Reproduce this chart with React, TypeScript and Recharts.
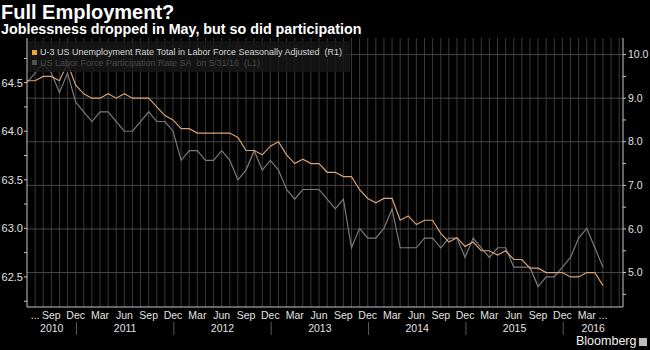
import React from "react";
import { LineChart, Line, XAxis, YAxis, ReferenceLine } from "recharts";

// monthly, Jun 2010 .. May 2016 (index 0 = Jun 2010)
const UNEMPLOYMENT = [
  9.4, 9.4, 9.5, 9.5, 9.4, 9.8, 9.3,
  9.1, 9.0, 9.0, 9.1, 9.0, 9.1, 9.0, 9.0, 9.0, 8.8, 8.6, 8.5,
  8.3, 8.3, 8.2, 8.2, 8.2, 8.2, 8.2, 8.1, 7.8, 7.8, 7.7, 7.9,
  8.0, 7.7, 7.5, 7.6, 7.5, 7.5, 7.3, 7.3, 7.2, 7.2, 6.9, 6.7,
  6.6, 6.7, 6.7, 6.2, 6.3, 6.1, 6.2, 6.2, 5.9, 5.7, 5.8, 5.6,
  5.7, 5.5, 5.5, 5.4, 5.5, 5.3, 5.3, 5.1, 5.1, 5.0, 5.0, 5.0,
  4.9, 4.9, 5.0, 5.0, 4.7,
];

const PARTICIPATION = [
  64.5, 64.6, 64.7, 64.6, 64.4, 64.6, 64.3,
  64.2, 64.1, 64.2, 64.2, 64.1, 64.0, 64.0, 64.1, 64.2, 64.1, 64.1, 64.0,
  63.7, 63.8, 63.8, 63.7, 63.7, 63.8, 63.7, 63.5, 63.6, 63.8, 63.6, 63.7,
  63.6, 63.4, 63.3, 63.4, 63.4, 63.4, 63.3, 63.2, 63.3, 62.8, 63.0, 62.9,
  62.9, 63.0, 63.2, 62.8, 62.8, 62.8, 62.9, 62.9, 62.8, 62.9, 62.9, 62.7,
  62.9, 62.8, 62.7, 62.8, 62.8, 62.6, 62.6, 62.6, 62.4, 62.5, 62.5, 62.6,
  62.7, 62.9, 63.0, 62.8, 62.6,
];

const MONTH_TICKS = [1, 3, 6, 9, 12, 15, 18, 21, 24, 27, 30, 33, 36, 39, 42, 45, 48, 51, 54, 57, 60, 63, 66, 69, 71];
const MONTH_LABELS = [
  "...", "Sep", "Dec", "Mar", "Jun", "Sep", "Dec", "Mar", "Jun", "Sep", "Dec", "Mar", "Jun",
  "Sep", "Dec", "Mar", "Jun", "Sep", "Dec", "Mar", "Jun", "Sep", "Dec", "Mar", "...",
];

const YEAR_TICKS = [3.05, 12.1, 24.1, 36.1, 48.1, 60.1, 69.8];
const YEAR_LABELS = ["2010", "2011", "2012", "2013", "2014", "2015", "2016"];
const YEAR_BREAKS = [6.1, 18.1, 30.1, 42.1, 54.1, 66.1];

const LEFT_TICKS = [62.25, 62.5, 62.75, 63, 63.25, 63.5, 63.75, 64, 64.25, 64.5, 64.75];
const RIGHT_TICKS = [4.5, 5, 5.5, 6, 6.5, 7, 7.5, 8, 8.5, 9, 9.5, 10];
const RIGHT_GRID = [5, 6, 7, 8, 9, 10];

const X_MAX = 73.47;

const data = UNEMPLOYMENT.map((u, i) => ({ m: i, unrate: u, lfpr: PARTICIPATION[i] }));
const monthGrid = Array.from({ length: 73 }, (_, k) => k + 1);

const FONT = "'Liberation Sans', Arial, sans-serif";
const ORANGE = "#d9a374";
const GRAY = "#7a7a7a";
const GRID = "#3a3a3a";

const MonthTick = (props: any) => {
  const { x, y, payload } = props;
  const idx = MONTH_TICKS.indexOf(payload.value);
  return (
    <text x={x} y={y + 11.5} textAnchor="middle" fill="#e2e2e2" fontSize={10.5} fontFamily={FONT}>
      {MONTH_LABELS[idx]}
    </text>
  );
};

const YearTick = (props: any) => {
  const { x, y, payload } = props;
  const idx = YEAR_TICKS.indexOf(payload.value);
  if (idx < 0) {
    return <line x1={x} x2={x} y1={y - 2} y2={y + 11} stroke="#5a5a5a" strokeWidth={1} />;
  }
  return (
    <text x={x} y={y + 7.8} textAnchor="middle" fill="#e2e2e2" fontSize={10.5} fontFamily={FONT}>
      {YEAR_LABELS[idx]}
    </text>
  );
};

export default function App() {
  return (
    <div
      style={{
        position: "absolute",
        left: 0,
        top: 0,
        width: 650,
        height: 350,
        background: "#000",
        overflow: "hidden",
        fontFamily: FONT,
      }}
    >
      <LineChart width={650} height={350} data={data} margin={{ top: 38, right: 0, bottom: 0, left: 0 }}>
        <XAxis
          xAxisId="m"
          dataKey="m"
          type="number"
          domain={[0, X_MAX]}
          ticks={MONTH_TICKS}
          interval={0}
          height={17}
          tickSize={0}
          tickMargin={0}
          tickLine={false}
          axisLine={{ stroke: "#c8c8c8" }}
          tick={<MonthTick />}
        />
        <XAxis
          xAxisId="yr"
          dataKey="m"
          type="number"
          domain={[0, X_MAX]}
          ticks={[...YEAR_TICKS, ...YEAR_BREAKS]}
          interval={0}
          height={26}
          tickSize={0}
          tickMargin={0}
          tickLine={false}
          axisLine={false}
          tick={<YearTick />}
        />
        <YAxis
          yAxisId="l"
          orientation="left"
          width={27}
          domain={[62.19, 64.96]}
          ticks={LEFT_TICKS}
          interval={0}
          tickSize={3}
          tickMargin={1}
          stroke="#c8c8c8"
          tick={{ fill: "#e2e2e2", fontSize: 11, fontFamily: FONT }}
          tickFormatter={(v) => (v % 0.5 === 0 ? Number(v).toFixed(1) : "")}
        />
        <YAxis
          yAxisId="r"
          orientation="right"
          width={27}
          domain={[4.21, 10.38]}
          ticks={RIGHT_TICKS}
          interval={0}
          tickSize={3}
          tickMargin={2}
          stroke="#c8c8c8"
          tick={{ fill: "#e2e2e2", fontSize: 10.5, fontFamily: FONT }}
          tickFormatter={(v) => (v % 1 === 0 ? Number(v).toFixed(1) : "")}
        />
        {monthGrid.map((k) => (
          <ReferenceLine key={"v" + k} xAxisId="m" yAxisId="r" x={k} stroke={GRID} strokeWidth={1} />
        ))}
        {RIGHT_GRID.map((v) => (
          <ReferenceLine key={"h" + v} xAxisId="m" yAxisId="r" y={v} stroke="#464646" strokeWidth={1} />
        ))}
        <Line
          xAxisId="m"
          yAxisId="l"
          dataKey="lfpr"
          type="linear"
          stroke={GRAY}
          strokeWidth={1.2}
          dot={false}
          isAnimationActive={false}
        />
        <Line
          xAxisId="m"
          yAxisId="r"
          dataKey="unrate"
          type="linear"
          stroke={ORANGE}
          strokeWidth={1.2}
          dot={false}
          isAnimationActive={false}
        />
      </LineChart>

      <div style={{ position: "absolute", left: 1, top: 1, color: "#fff", fontSize: 20, fontWeight: 700, lineHeight: "22px", whiteSpace: "nowrap" }}>
        Full Employment?
      </div>
      <div style={{ position: "absolute", left: 1, top: 22, color: "#fff", fontSize: 14.3, fontWeight: 700, lineHeight: "14px", whiteSpace: "nowrap" }}>
        Joblessness dropped in May, but so did participation
      </div>

      <div
        style={{
          position: "absolute",
          left: 28,
          top: 41,
          width: 318,
          padding: "6px 0 4px 4px",
          background: "rgba(22,22,22,0.85)",
          fontSize: 9,
          lineHeight: "10.5px",
          whiteSpace: "nowrap",
        }}
      >
        <div style={{ color: "#d6d6d6", display: "flex", alignItems: "center" }}>
          <span style={{ display: "inline-block", width: 5, height: 5, background: "#f0a43a", marginRight: 3 }} />
          U-3 US Unemployment Rate Total in Labor Force Seasonally Adjusted&nbsp;&nbsp;(R1)
        </div>
        <div style={{ color: "#4a4a4a", display: "flex", alignItems: "center" }}>
          <span style={{ display: "inline-block", width: 5, height: 5, background: "#505050", marginRight: 3 }} />
          US Labor Force Participation Rate SA&nbsp;&nbsp;on 5/31/16&nbsp;&nbsp;(L1)
        </div>
      </div>

      <div style={{ position: "absolute", left: 576, top: 334, color: "#f2f2f2", fontSize: 12.5, lineHeight: "14px", whiteSpace: "nowrap" }}>
        Bloomberg
      </div>
      <div style={{ position: "absolute", left: 639, top: 338, width: 8, height: 8, background: "#bdbdbd" }} />
    </div>
  );
}
